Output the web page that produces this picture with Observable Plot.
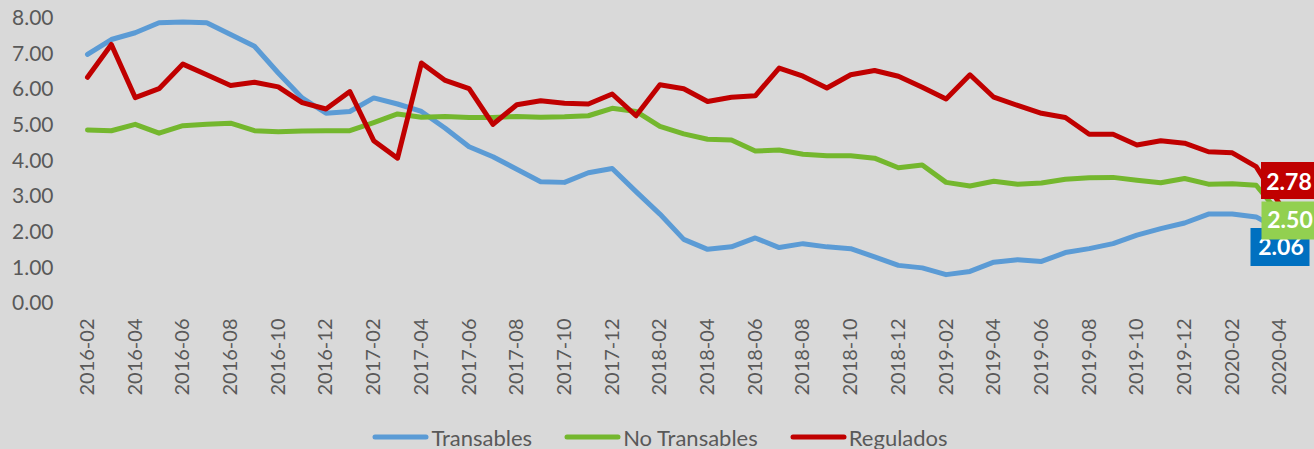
<!DOCTYPE html>
<html>
<head>
<meta charset="utf-8">
<script src="https://cdn.jsdelivr.net/npm/d3@7"></script>
<script src="https://cdn.jsdelivr.net/npm/@observablehq/plot@0.6"></script>
<style>
  html, body { margin: 0; padding: 0; background: #d9d9d9; }
  body { width: 1314px; height: 449px; overflow: hidden; font-family: Lato, "Open Sans", sans-serif; }
  #legend { display: flex; justify-content: center; align-items: center; height: 24px; padding-left: 6px; color: #595959; font-size: 22px; font-family: Lato, sans-serif; }
  .item { display: flex; align-items: center; margin: 0 16px; }
  .item svg { margin-right: 2px; }
  svg g[aria-label="y-axis tick label"] text { font-size: 21px; }
</style>
</head>
<body>
<div id="chart"></div>
<div id="legend"></div>
<script>
const months = [
  "2016-02","2016-03","2016-04","2016-05","2016-06","2016-07","2016-08","2016-09","2016-10","2016-11","2016-12",
  "2017-01","2017-02","2017-03","2017-04","2017-05","2017-06","2017-07","2017-08","2017-09","2017-10","2017-11","2017-12",
  "2018-01","2018-02","2018-03","2018-04","2018-05","2018-06","2018-07","2018-08","2018-09","2018-10","2018-11","2018-12",
  "2019-01","2019-02","2019-03","2019-04","2019-05","2019-06","2019-07","2019-08","2019-09","2019-10","2019-11","2019-12",
  "2020-01","2020-02","2020-03","2020-04"
];
const tickLabels = [
  "2016-02","2016-04","2016-06","2016-08","2016-10","2016-12",
  "2017-02","2017-04","2017-06","2017-08","2017-10","2017-12",
  "2018-02","2018-04","2018-06","2018-08","2018-10","2018-12",
  "2019-02","2019-04","2019-06","2019-08","2019-10","2019-12",
  "2020-02","2020-04"
];
const yTicks = [0, 1, 2, 3, 4, 5, 6, 7, 8];

const transables = [
  6.99, 7.41, 7.60, 7.88, 7.90, 7.88, 7.55, 7.22, 6.47, 5.77,
  5.34, 5.39, 5.77, 5.60, 5.39, 4.92, 4.40, 4.12, 3.77, 3.42,
  3.40, 3.67, 3.79, 3.14, 2.51, 1.80, 1.52, 1.59, 1.84, 1.57,
  1.68, 1.59, 1.54, 1.31, 1.07, 1.00, 0.81, 0.90, 1.16, 1.23,
  1.18, 1.43, 1.54, 1.68, 1.92, 2.10, 2.26, 2.51, 2.51, 2.43, 2.06
];
const noTransables = [
  4.87, 4.85, 5.03, 4.78, 4.99, 5.03, 5.06, 4.85, 4.82, 4.84,
  4.85, 4.85, 5.08, 5.32, 5.23, 5.25, 5.22, 5.22, 5.25, 5.23,
  5.24, 5.27, 5.48, 5.39, 4.97, 4.76, 4.61, 4.59, 4.28, 4.31,
  4.19, 4.15, 4.15, 4.08, 3.81, 3.89, 3.40, 3.30, 3.43, 3.35,
  3.38, 3.49, 3.53, 3.54, 3.46, 3.39, 3.51, 3.35, 3.36, 3.32, 2.50
];
const regulados = [
  6.35, 7.27, 5.78, 6.03, 6.72, 6.42, 6.12, 6.21, 6.08, 5.64,
  5.46, 5.95, 4.57, 4.08, 6.75, 6.26, 6.03, 5.03, 5.58, 5.69,
  5.62, 5.60, 5.88, 5.27, 6.14, 6.03, 5.67, 5.79, 5.83, 6.61,
  6.38, 6.05, 6.42, 6.54, 6.38, 6.07, 5.74, 6.42, 5.79, 5.56,
  5.34, 5.22, 4.75, 4.75, 4.45, 4.57, 4.50, 4.26, 4.23, 3.84, 2.78
];

const seriesNames = ["Transables", "No Transables", "Regulados"];
const seriesValues = [transables, noTransables, regulados];
const lineColors = ["#5b9bd5", "#74b72e", "#c00000"];
const labelColors = ["#0070c0", "#92d050", "#c00000"];

const rows = [];
seriesValues.forEach((vals, k) => vals.forEach((v, i) => rows.push({month: months[i], value: v, series: seriesNames[k]})));
const lastRows = seriesValues.map((vals, k) => ({month: months[vals.length - 1], value: vals[vals.length - 1], series: seriesNames[k]}));

function boxSymbol(w, h) {
  return {draw(ctx) { ctx.rect(-w / 2, -h / 2, w, h); }};
}
// label box geometry per series (Transables, No Transables, Regulados)
const boxes = [
  {w: 59, h: 38, dx: 0, dy: 17, tdx: 1, tdy: 18},
  {w: 53, h: 38, dx: 8, dy: 6, tdx: 10, tdy: 6},
  {w: 54, h: 37, dx: 8, dy: -24, tdx: 9, tdy: -22}
];

const labelMarks = [];
lastRows.forEach((d, k) => {
  const b = boxes[k];
  labelMarks.push(Plot.dot([d], {x: "month", y: "value", symbol: boxSymbol(b.w, b.h), r: 3, fill: labelColors[k], stroke: "none", dx: b.dx, dy: b.dy}));
  labelMarks.push(Plot.text([d], {x: "month", y: "value", text: r => r.value.toFixed(2), fill: "white", fontWeight: "bold", fontSize: 23, fontFamily: "Lato, sans-serif", dx: b.tdx, dy: b.tdy}));
});

const chart = Plot.plot({
  width: 1314,
  height: 425,
  marginLeft: 87,
  marginRight: 34.5,
  marginTop: 18,
  marginBottom: 122,
  style: {background: "transparent", color: "#595959", fontSize: "20px", fontFamily: "Lato, sans-serif"},
  x: {type: "point", domain: months, padding: 0, ticks: tickLabels, tickRotate: -90, tickSize: 0, tickPadding: 15, label: null},
  y: {domain: [0, 8], ticks: yTicks, tickFormat: d3.format(".2f"), tickSize: 0, tickPadding: 34, label: null},
  color: {domain: seriesNames, range: lineColors},
  marks: [
    Plot.line(rows, {x: "month", y: "value", z: "series", stroke: "series", strokeWidth: 5, strokeLinejoin: "round", strokeLinecap: "round"}),
    ...labelMarks
  ]
});
document.getElementById("chart").appendChild(chart);

const legend = document.getElementById("legend");
seriesNames.forEach((name, k) => {
  const item = document.createElement("div");
  item.className = "item";
  item.innerHTML = `<svg width="57" height="8"><line x1="3" y1="4" x2="54" y2="4" stroke="${lineColors[k]}" stroke-width="5" stroke-linecap="round"/></svg><span>${name}</span>`;
  legend.appendChild(item);
});
</script>
</body>
</html>
